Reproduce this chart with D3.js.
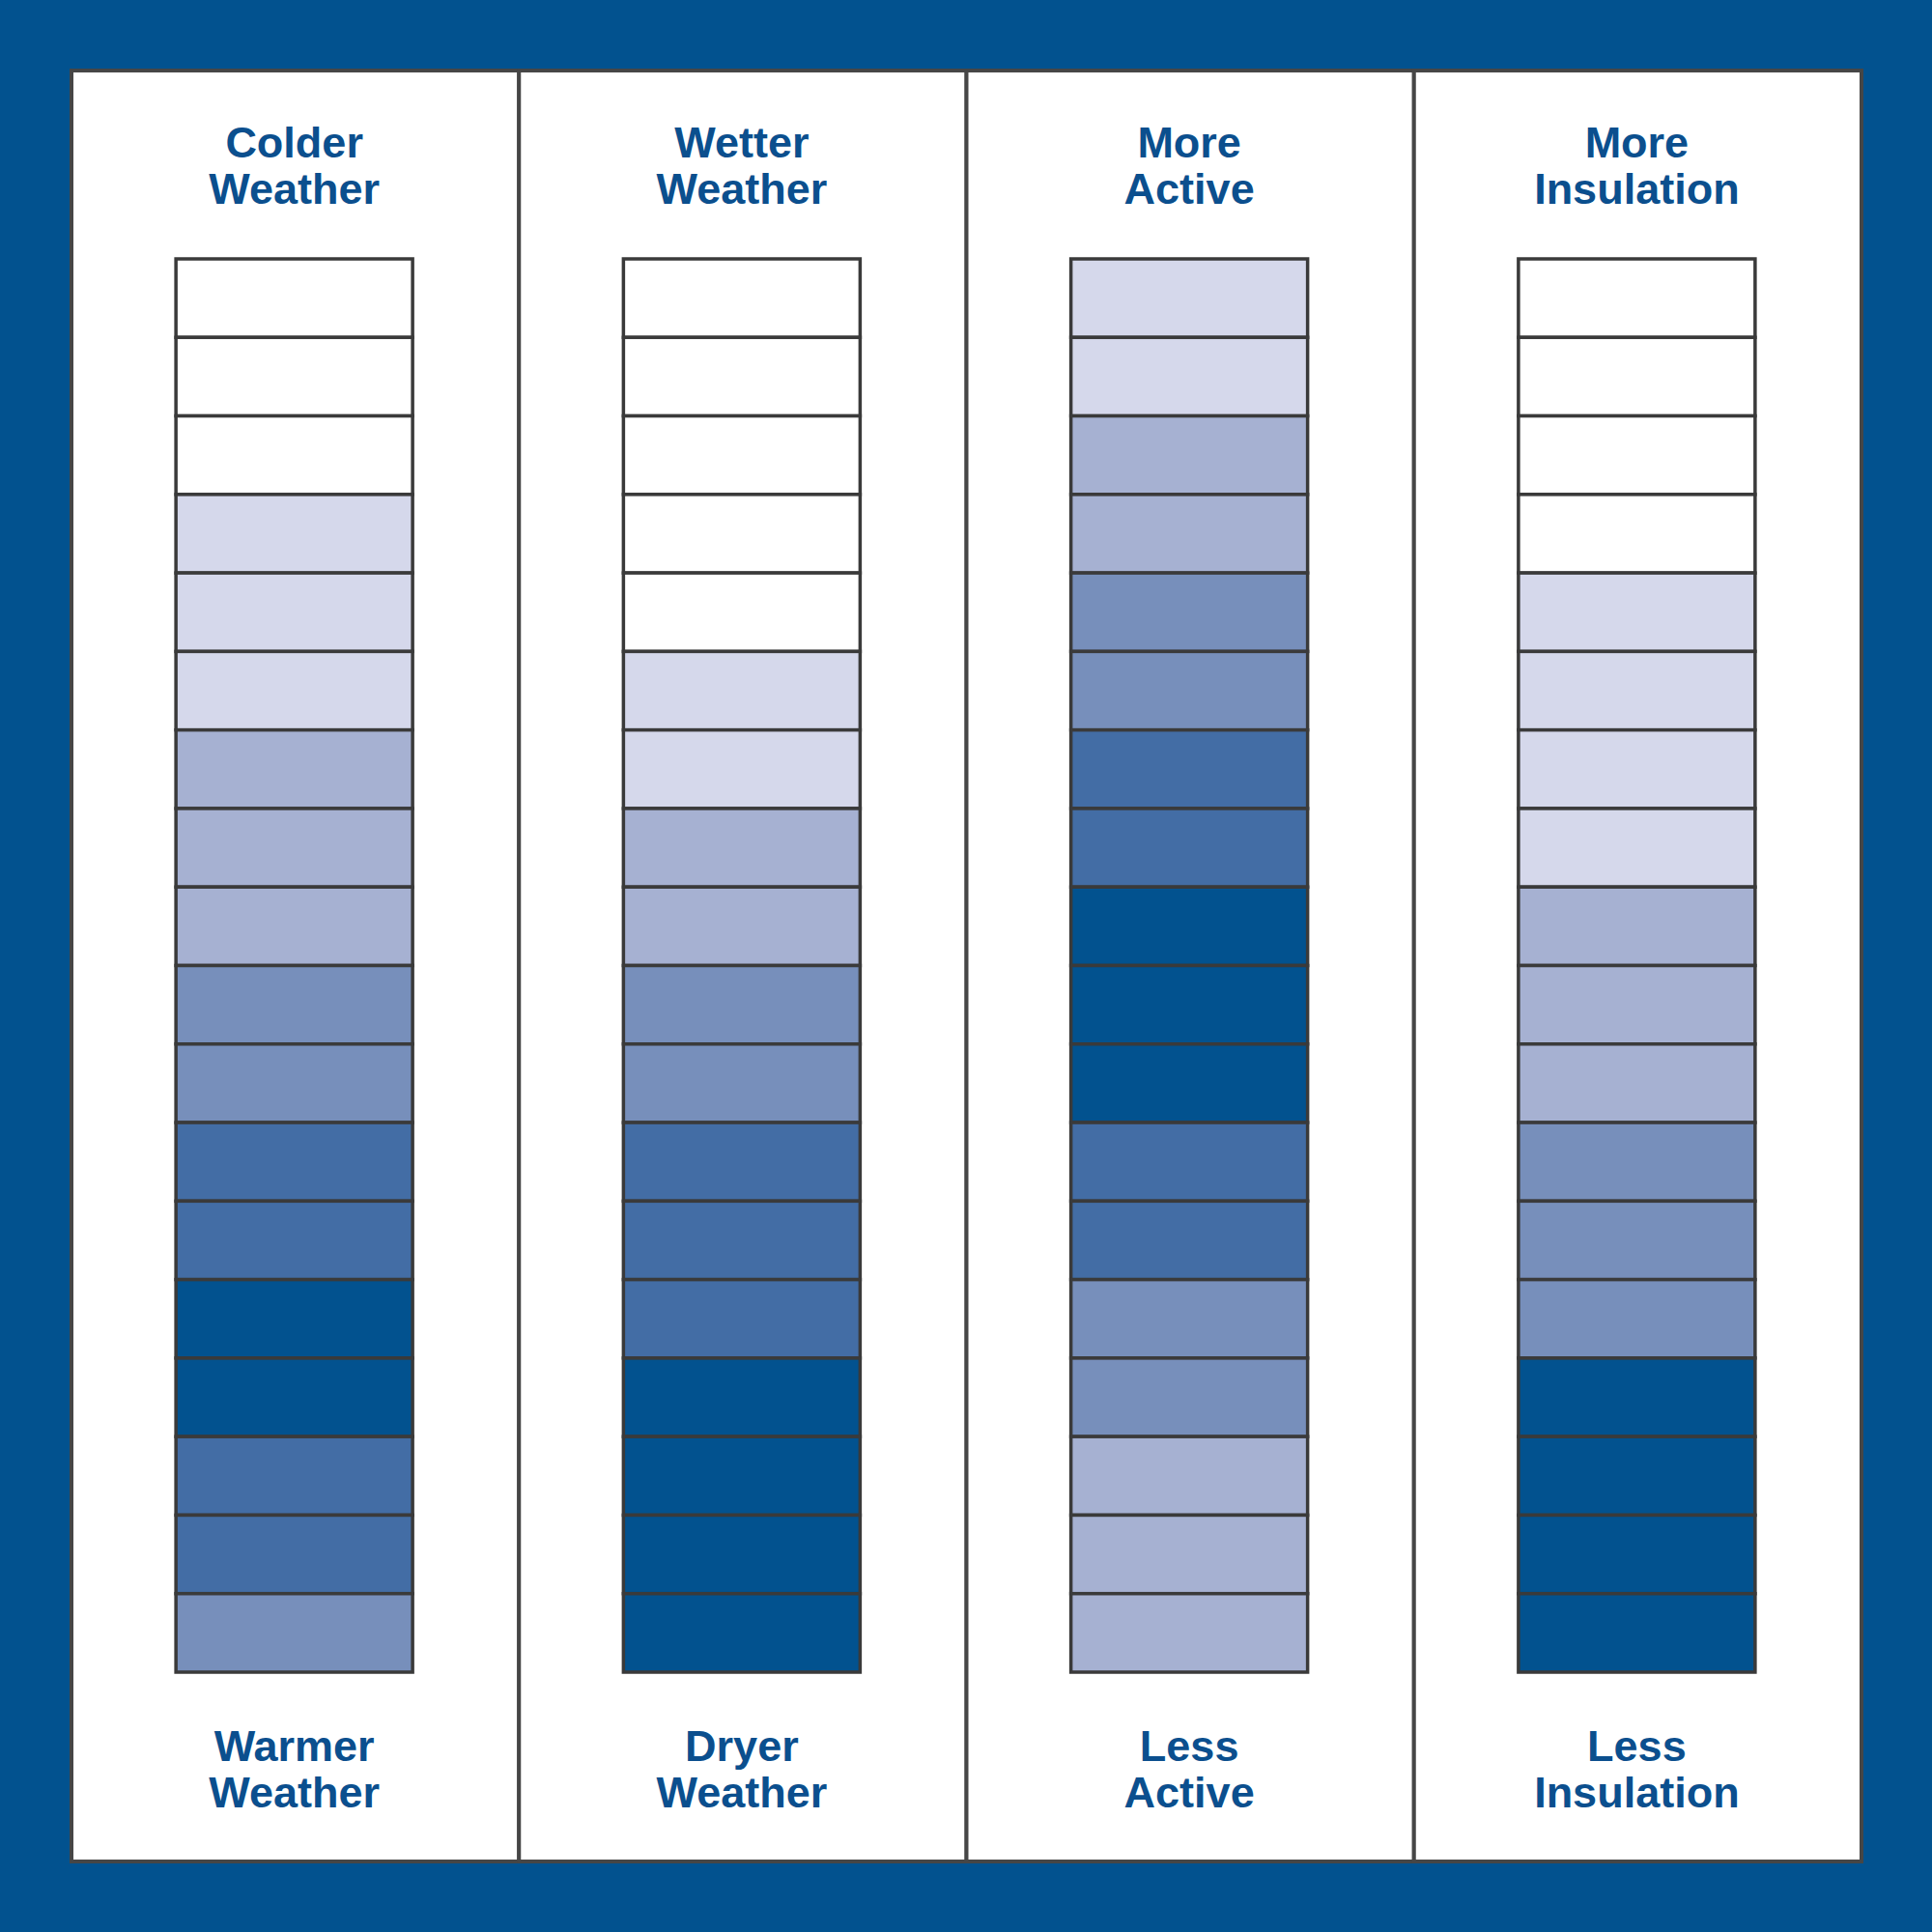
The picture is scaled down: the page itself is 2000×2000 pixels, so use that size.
<!DOCTYPE html>
<html>
<head>
<meta charset="utf-8">
<script src="https://cdn.jsdelivr.net/npm/d3@7"></script>
<style>
  html, body { margin: 0; padding: 0; background: #02528f; }
  svg { display: block; }
</style>
</head>
<body>
<svg id="chart" width="2000" height="2000"></svg>
<script>
// ---- data ----
const columns = ["Colder Weather", "Wetter Weather", "More Active", "More Insulation"];
const topLabels = [["Colder", "Weather"], ["Wetter", "Weather"], ["More", "Active"], ["More", "Insulation"]];
const bottomLabels = [["Warmer", "Weather"], ["Dryer", "Weather"], ["Less", "Active"], ["Less", "Insulation"]];
// shade level of each of the 18 cells, top to bottom (0 = white … 5 = darkest)
const colderWeather   = [0,0,0,1,1,1,2,2,2,3,3,4,4,5,5,4,4,3];
const wetterWeather   = [0,0,0,0,0,1,1,2,2,3,3,4,4,4,5,5,5,5];
const moreActive      = [1,1,2,2,3,3,4,4,5,5,5,4,4,3,3,2,2,2];
const moreInsulation  = [0,0,0,0,1,1,1,1,2,2,2,3,3,3,5,5,5,5];
const levels = [0,1,2,3,4,5];
const shadeColors = ["#ffffff", "#d5d8eb", "#a6b1d2", "#778fbb", "#436da5", "#02528f"];

const series = [colderWeather, wetterWeather, moreActive, moreInsulation];

// ---- layout ----
const W = 2000, H = 2000;
const panel = {x0: 74, y0: 73, x1: 1927, y1: 1927};
const svg = d3.select("#chart");
const blue = "#02528f";
const textBlue = "#0b4f8e";
const grey = "#464646";

svg.append("rect").attr("x", 0).attr("y", 0).attr("width", W).attr("height", H).attr("fill", blue);

const x = d3.scaleBand().domain(columns).range([panel.x0, panel.x1]).paddingInner(0).paddingOuter(0);
const nCells = colderWeather.length;
const y = d3.scaleBand().domain(d3.range(nCells)).range([268, 1731]);
const color = d3.scaleOrdinal().domain(levels).range(shadeColors);

// column panels
svg.selectAll("rect.col").data(columns).join("rect")
  .attr("class", "col")
  .attr("x", d => x(d)).attr("y", panel.y0)
  .attr("width", x.bandwidth()).attr("height", panel.y1 - panel.y0)
  .attr("fill", "#ffffff").attr("stroke", grey).attr("stroke-width", 4);

const boxW = 245;
const g = svg.selectAll("g.column").data(columns).join("g")
  .attr("class", "column")
  .attr("transform", d => `translate(${x(d) + x.bandwidth() / 2 - 1},0)`);

g.each(function(col, i) {
  const sel = d3.select(this);
  sel.selectAll("rect.cell").data(series[i]).join("rect")
    .attr("class", "cell")
    .attr("x", -boxW / 2)
    .attr("y", (d, j) => y(j))
    .attr("width", boxW)
    .attr("height", y.bandwidth())
    .attr("fill", d => color(d))
    .attr("stroke", "#3a3a3a")
    .attr("stroke-width", 3.5);

  const fontCss = "font-family: 'Liberation Sans', Arial, Helvetica, sans-serif; font-weight: bold;";
  sel.selectAll("text.top").data(topLabels[i]).join("text")
    .attr("class", "top")
    .attr("x", 0).attr("y", (d, k) => 163 + k * 48)
    .attr("text-anchor", "middle")
    .attr("style", fontCss)
    .attr("font-size", 45)
    .attr("fill", textBlue)
    .text(d => d);
  sel.selectAll("text.bottom").data(bottomLabels[i]).join("text")
    .attr("class", "bottom")
    .attr("x", 0).attr("y", (d, k) => 1823 + k * 48)
    .attr("text-anchor", "middle")
    .attr("style", fontCss)
    .attr("font-size", 45)
    .attr("fill", textBlue)
    .text(d => d);
});
</script>
</body>
</html>
